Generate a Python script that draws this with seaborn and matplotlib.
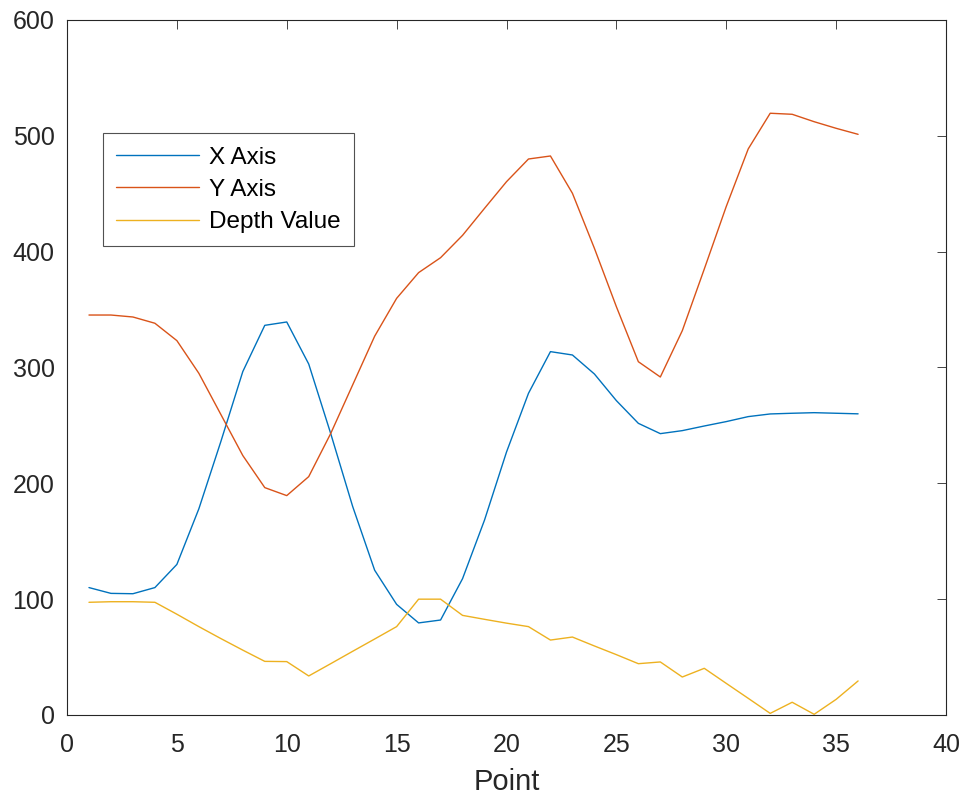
import matplotlib
matplotlib.use("Agg")
import matplotlib.pyplot as plt
import seaborn as sns
import pandas as pd
import numpy as np

# values
points = list(range(1, 37))
x_axis = [110, 105, 104.7, 110, 130, 178, 236, 296.5, 336.4, 339.3,
          303, 243, 180, 125, 95.5, 79.5, 82, 117.7, 168.3, 227,
          277.7, 313.7, 310.8, 294.4, 271.4, 251.8, 242.9, 245.5, 249.5, 253.3,
          257.6, 259.9, 260.5, 261, 260.5, 260]
y_axis = [345.3, 345.3, 343.6, 338.2, 323.2, 295, 259.5, 224, 196.3, 189.4,
          205.8, 243, 285, 327, 359.7, 381.9, 394.8, 414.1, 437.4, 460.4,
          480, 482.6, 450.4, 402.9, 352.5, 305, 291.8, 331.8, 385, 439,
          488.7, 519.5, 518.6, 512.2, 506.5, 501.3]
depth = [97.3, 97.8, 97.8, 97.3, 87, 76.3, 66, 56, 46.3, 46.1,
         33.7, 44.3, 55, 65.6, 76.3, 100, 100, 86, 82.6, 79.3,
         76.3, 64.7, 67.3, 59.6, 52.1, 44.3, 45.8, 32.8, 40.3, 27.3,
         14.4, 1.4, 11, 0.6, 13.5, 29.4]

series = ["X Axis", "Y Axis", "Depth Value"]
colors = ["#0072BD", "#D95319", "#EDB120"]

df = pd.DataFrame({
    "Point": points * 3,
    "value": x_axis + y_axis + depth,
    "series": np.repeat(series, len(points)),
})

sns.set_theme(style="white")
plt.rcParams["font.family"] = ["Liberation Sans", "DejaVu Sans"]
dark = "#262626"
plt.rcParams.update({
    "axes.edgecolor": dark,
    "axes.linewidth": 0.8,
    "xtick.color": dark,
    "ytick.color": dark,
    "axes.labelcolor": dark,
})

fig = plt.figure(figsize=(9.66, 8.0), dpi=100)
ax = fig.add_axes([67 / 966, 1 - 715 / 800, 879 / 966, 695 / 800])

sns.lineplot(data=df, x="Point", y="value", hue="series", hue_order=series,
             palette=colors, linewidth=1.0, ax=ax, estimator=None, sort=False)

ax.set_xlim(0, 40)
ax.set_ylim(0, 600)
ax.set_xticks(range(0, 41, 5))
ax.set_yticks(range(0, 601, 100))
ax.tick_params(direction="in", length=6.5, width=0.6, top=True, right=True,
               labelsize=18)
ax.tick_params(axis="x", pad=13)
ax.tick_params(axis="y", pad=9)
for s in ax.spines.values():
    s.set_visible(True)
    s.set_color(dark)

ax.set_xlabel("Point", fontsize=21, labelpad=8)
ax.set_ylabel(None)

leg = ax.legend(loc="upper left", bbox_to_anchor=(0.041, 0.837), borderaxespad=0,
                fontsize=17.5, frameon=True, fancybox=False, edgecolor=dark,
                handlelength=3.4, handletextpad=0.4, labelspacing=0.42,
                borderpad=0.55, title=None)
leg.get_frame().set_linewidth(0.8)
for t in leg.get_texts():
    t.set_color("black")

fig.savefig("out.png", dpi=100, facecolor="white")
